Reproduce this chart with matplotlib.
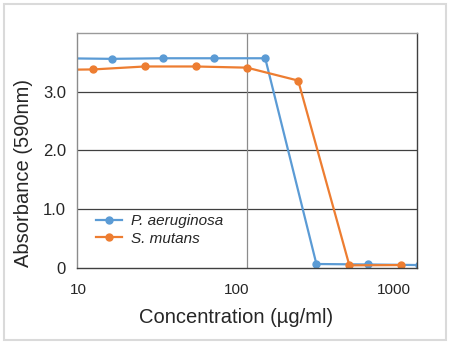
import matplotlib
matplotlib.use("Agg")
import matplotlib.pyplot as plt
from matplotlib.patches import Rectangle
from matplotlib.transforms import ScaledTranslation

# Data
pa_conc = [8, 16, 32, 64, 128, 256, 512, 1024]
pa_abs = [3.57, 3.56, 3.57, 3.57, 3.57, 0.068, 0.06, 0.05]
sm_conc = [6.25, 12.5, 25, 50, 100, 200, 400, 800]
sm_abs = [3.37, 3.38, 3.43, 3.43, 3.41, 3.19, 0.045, 0.05]
series_labels = ["P. aeruginosa", "S. mutans"]
x_ticks = [10, 100, 1000]
x_ticklabels = ["10", "100", "1000"]
y_ticks = [0, 1, 2, 3, 4]
y_ticklabels = ["0", "1.0", "2.0", "3.0", ""]

plt.rcParams['font.family'] = ['Liberation Sans', 'DejaVu Sans']
text_color = "#262626"

fig = plt.figure(figsize=(4.5, 3.43), dpi=100)
ax = fig.add_axes([77/450, 1 - 268/343, 340/450, 235/343])

blue = "#5B9BD5"
orange = "#ED7D31"
ax.plot(pa_conc, pa_abs, color=blue, lw=1.6, marker='o', ms=5, label=series_labels[0], clip_on=True)
ax.plot(sm_conc, sm_abs, color=orange, lw=1.6, marker='o', ms=5, label=series_labels[1], clip_on=True)

ax.set_xscale('log')
ax.set_xlim(10, 1000)
ax.set_ylim(0, 4)
ax.set_xticks(x_ticks)
ax.set_xticklabels(x_ticklabels)
ax.minorticks_off()
ax.set_yticks(y_ticks)
ax.set_yticklabels(y_ticklabels)
ax.tick_params(axis='both', length=0, colors=text_color)
ax.tick_params(axis='y', pad=8, labelsize=12)
ax.tick_params(axis='x', pad=11, labelsize=11)

# shift x tick labels like the reference layout (pixel offsets)
for lab, dx in zip(ax.get_xticklabels(), [1.5, -10, -23.5]):
    lab.set_transform(lab.get_transform() + ScaledTranslation(dx/100, 0, fig.dpi_scale_trans))

for y in [1, 2, 3]:
    ax.axhline(y, color="#404040", lw=0.9, zorder=0.5)
ax.axvline(100, color="#8c8c8c", lw=0.9, zorder=0.5)

ax.spines['left'].set_color("#8c8c8c")
ax.spines['top'].set_color("#9a9a9a")
ax.spines['right'].set_color("#404040")
ax.spines['bottom'].set_color("#404040")
for s in ax.spines.values():
    s.set_linewidth(1.0)

ax.set_xlabel("Concentration (\u00b5g/ml)", fontsize=14.5, color=text_color)
ax.set_ylabel("Absorbance (590nm)", fontsize=14.5, color=text_color)
ax.xaxis.set_label_coords(0.468, -0.17)
ax.yaxis.set_label_coords(-0.129, 0.404)

leg = ax.legend(loc='center left', bbox_to_anchor=(0.055, 0.162), frameon=False,
                borderpad=0, borderaxespad=0, handlelength=1.7, handletextpad=0.6,
                labelspacing=0.25, prop={'style': 'italic', 'size': 11})
for t in leg.get_texts():
    t.set_color(text_color)

fig.patches.append(Rectangle((4/450, 3/343), 442/450, 336/343, transform=fig.transFigure,
                             fill=False, edgecolor="#dadada", lw=1.5))

fig.savefig("out.png", dpi=100)
